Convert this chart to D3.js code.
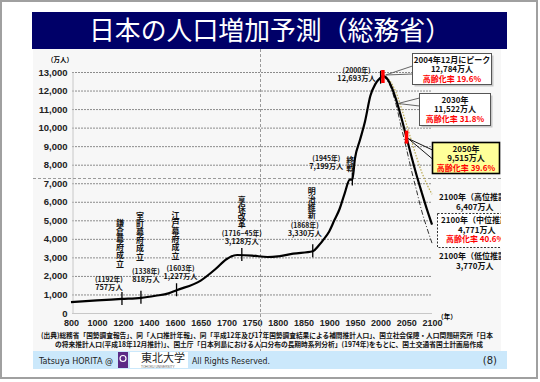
<!DOCTYPE html>
<html><head><meta charset="utf-8">
<script src="https://cdn.jsdelivr.net/npm/d3@7"></script>
<style>body{margin:0;background:#fff}svg{display:block}</style>
</head><body><svg id="c" width="540" height="382"></svg>
<script>
// ---------- DATA ----------
const titleText = "日本の人口増加予測（総務省）";
const xTickYears = [800,1000,1200,1400,1600,1650,1700,1750,1800,1850,1900,1950,2000,2050,2100];
const yTickValues = [0,1000,2000,3000,4000,5000,6000,7000,8000,9000,10000,11000,12000,13000];
// actual + medium projection (万人)
const years      = [800,1000,1192,1338,1450,1550,1603,1650,1680,1700,1721,1750,1780,1800,1830,1868,1880,1890,1900,1910,1920,1930,1940,1945,1950,1960,1970,1980,1990,2000,2004,2010,2020,2030,2040,2050,2060,2070,2080,2090,2100];
const population = [590, 680, 757, 818, 930,1060,1227,1750,2400,2900,3128,3100,3020,3050,3200,3330,3650,4000,4400,5000,5596,6445,7193,7199,8320,9342,10372,11706,12361,12693,12784,12718,12274,11522,10570,9515,8440,7430,6500,5600,4771];
const highYears = [2005,2020,2030,2040,2050,2060,2070,2080,2090,2100];
const highPop   = [12780,12450,11900,11100,10200,9300,8400,7600,6950,6407];
const lowYears  = [2005,2020,2030,2040,2050,2060,2070,2080,2090,2100];
const lowPop    = [12780,12150,11250,10050,8900,7700,6600,5500,4600,3770];
const eventYears  = [1192,1338,1603,1730,1868,1945,2000];
const eventPops   = [757,818,1227,3128,3330,7199,12693];
const eventNames  = ["鎌倉幕府成立","室町幕府成立","江戸幕府成立","享保改革","明治維新","終戦",""];
const eventYearLabels = ["(1192年)","(1338年)","(1603年)","(1716~45年)","(1868年)","(1945年)","(2000年)"];
const eventPopLabels  = ["757万人","818万人","1,227万人","3,128万人","3,330万人","7,199万人","12,693万人"];
const calloutLines = [
  ["2004年12月にピーク","12,784万人","高齢化率 19.6%"],
  ["2030年","11,522万人","高齢化率 31.8%"],
  ["2050年","9,515万人","高齢化率 39.6%"]
];
const proj2100 = [
  ["2100年（高位推計）","6,407万人"],
  ["2100年（中位推計）","4,771万人","高齢化率 40.6%"],
  ["2100年（低位推計）","3,770万人"]
];
const sourceLines = [
  "(出典)総務省「国勢調査報告」、同「人口推計年報」、同「平成12年及び17年国勢調査結果による補間推計人口」、国立社会保障・人口問題研究所「日本",
  "の将来推計人口(平成18年12月推計)」、国土庁「日本列島における人口分布の長期時系列分析」(1974年)をもとに、国土交通省国土計画局作成"
];
const footerLeft = "Tatsuya HORITA @";
const footerUniv = "東北大学";
const footerUnivEn = "TOHOKU UNIVERSITY";
const footerRights = "All Rights Reserved.";
const pageNo = "(8)";

// ---------- DRAW ----------
const JP = "'Noto Sans CJK JP','Noto Sans',sans-serif";
const svg = d3.select("#c");
svg.append("rect").attr("x",0).attr("y",0).attr("width",540).attr("height",382).attr("fill","#fff");
svg.append("rect").attr("x",1).attr("y",1).attr("width",536).attr("height",377).attr("fill","none").attr("stroke","#a0a0a0").attr("stroke-width",2);

// title bar
svg.append("rect").attr("x",32).attr("y",12).attr("width",475).attr("height",37).attr("fill","#000068");
svg.append("text").attr("x",270).attr("y",40).attr("text-anchor","middle").attr("fill","#fff")
  .attr("font-family",JP).attr("font-size",26).attr("textLength",362).attr("lengthAdjust","spacingAndGlyphs").text(titleText);

// chart panel
svg.append("rect").attr("x",33).attr("y",49).attr("width",468).attr("height",302).attr("fill","#f7f7f7");
svg.append("clipPath").attr("id","pc").append("rect").attr("x",33).attr("y",49).attr("width",468).attr("height",302);
const g = svg.append("g").attr("clip-path","url(#pc)");

const x = d3.scaleLinear().domain([800,1600,2100]).range([71,175,432]);
const y = d3.scaleLinear().domain([0,13000]).range([313,72]);

// gridlines
g.append("g").selectAll("line").data(yTickValues.filter(v=>v>0)).join("line")
  .attr("x1",72).attr("x2",432).attr("y1",d=>y(d)+0.5).attr("y2",d=>y(d)+0.5)
  .attr("stroke","#8c8c8c").attr("stroke-width",1).attr("stroke-dasharray","2,1");
// axes
const yAxis = d3.axisLeft(y).tickValues(yTickValues).tickSize(0).tickPadding(5).tickFormat(d3.format(","));
const ya = g.append("g").attr("transform","translate(72.5,0)").call(yAxis);
ya.select(".domain").attr("stroke","#c8c8c8");
ya.selectAll("text").attr("font-family","'Liberation Sans',Arial,sans-serif").attr("font-size",9.5).attr("font-weight","bold").attr("fill","#222");
const xAxis = d3.axisBottom(x).tickValues(xTickYears).tickSize(0).tickPadding(6).tickFormat(d=>String(d));
const xa = g.append("g").attr("transform","translate(0,313.5)").call(xAxis);
xa.select(".domain").remove();
g.append("line").attr("x1",72).attr("x2",432).attr("y1",313.5).attr("y2",313.5).attr("stroke","#c8c8c8");
xa.selectAll("text").attr("font-family","'Liberation Sans',Arial,sans-serif").attr("font-size",9).attr("font-weight","bold").attr("fill","#222");
g.append("text").attr("x",60).attr("y",62).attr("text-anchor","middle").attr("font-family",JP).attr("font-size",6.5).attr("font-weight","bold").text("（万人）");
g.append("text").attr("x",447).attr("y",319).attr("text-anchor","middle").attr("font-family",JP).attr("font-size",6.5).attr("font-weight","bold").text("（年）");

// slide guide lines
g.append("line").attr("x1",260.5).attr("x2",260.5).attr("y1",49).attr("y2",351).attr("stroke","#9a9a9a").attr("stroke-dasharray","3,2");
g.append("line").attr("x1",33).attr("x2",501).attr("y1",178.5).attr("y2",178.5).attr("stroke","#9a9a9a").attr("stroke-dasharray","3,2");

// projection lines
const line = d3.line().x(d=>x(d[0])).y(d=>y(d[1])).curve(d3.curveMonotoneX);
g.append("path").datum(highYears.map((v,i)=>[v,highPop[i]])).attr("d",line).attr("fill","none")
  .attr("stroke","#b8a850").attr("stroke-width",1.2).attr("stroke-dasharray","1.5,1.5");
g.append("path").datum(lowYears.map((v,i)=>[v,lowPop[i]])).attr("d",line).attr("fill","none")
  .attr("stroke","#333").attr("stroke-width",1).attr("stroke-dasharray","5,2,1,2");
// main line
g.append("path").datum(years.map((v,i)=>[v,population[i]])).attr("d",line).attr("fill","none")
  .attr("stroke","#000").attr("stroke-width",2.2);

// event ticks
g.append("g").selectAll("line").data(eventYears).join("line")
  .attr("x1",d=>x(d)).attr("x2",d=>x(d))
  .attr("y1",(d,i)=>y(eventPops[i])-7).attr("y2",(d,i)=>y(eventPops[i])+6)
  .attr("stroke","#000").attr("stroke-width",1.3);

// event labels (layout)
const evLayout = [
  {nx:-2, ny:219, lx:-13, ly:279},
  {nx:-1, ny:212, lx:5,  ly:271},
  {nx:-1, ny:211, lx:4,  ly:268},
  {nx:0,  ny:196, lx:0,  ly:233},
  {nx:-1, ny:187, lx:-8, ly:225},
  {nx:-2, ny:156, lx:-26,ly:158},
  {nx:0,  ny:0,   lx:-24,ly:70}
];
eventYears.forEach((yr,i)=>{
  const L = evLayout[i], cx = x(yr);
  if(eventNames[i]) {
    g.append("text").attr("x",cx+L.nx).attr("y",L.ny)
      .style("writing-mode","vertical-rl").attr("letter-spacing",0.1)
      .attr("font-family",JP).attr("font-size",8).attr("font-weight","bold").attr("fill","#111").text(eventNames[i]);
  }
  const t = g.append("text").attr("text-anchor","middle").attr("font-family",JP).attr("font-weight","bold").attr("fill","#111");
  t.append("tspan").attr("x",cx+L.lx).attr("y",L.ly+2.5).attr("font-size",6.8).text(eventYearLabels[i]);
  t.append("tspan").attr("x",cx+L.lx).attr("y",L.ly+11).attr("font-size",7.3).text(eventPopLabels[i]);
});

// red markers
g.append("rect").attr("x",x(2004)-1.5).attr("y",y(12784)-6).attr("width",3.5).attr("height",13).attr("fill","#ff0000");
g.append("rect").attr("x",x(2050)-1.5).attr("y",y(9515)-6).attr("width",3.5).attr("height",13).attr("fill","#ff0000");

// callouts
const boxes = [
  {x:412.5,y:53.5,w:79,h:31,fill:"#fff",stroke:"#555",sw:1,cx:452,tip:[x(2004)+3,y(12784)-1],a:[412.5,66],b:[412.5,74]},
  {x:419.5,y:93.5,w:71,h:32,fill:"#fff",stroke:"#555",sw:1,cx:455,tip:[x(2032)+1,y(11300)],a:[419.5,98],b:[419.5,106]},
  {x:432.5,y:142.5,w:67,h:31,fill:"#ffff99",stroke:"#000",sw:1.6,cx:466,tip:[x(2050)+2,y(9515)+2],a:[432.5,150],b:[432.5,159]}
];
boxes.forEach((b,i)=>{
  g.append("polyline").attr("points",[b.a,b.tip,b.b].map(p=>p.join(",")).join(" ")).attr("fill","none").attr("stroke",b.stroke).attr("stroke-width",0.9);
  if(i<2) g.append("rect").attr("x",b.x+2).attr("y",b.y+2).attr("width",b.w).attr("height",b.h).attr("fill","#c8c8c8");
  g.append("rect").attr("x",b.x).attr("y",b.y).attr("width",b.w).attr("height",b.h).attr("fill",b.fill).attr("stroke",b.stroke).attr("stroke-width",b.sw);
  const t = g.append("text").attr("text-anchor","middle").attr("font-family",JP).attr("font-size",8).attr("font-weight","bold");
  calloutLines[i].forEach((s,k)=>{
    t.append("tspan").attr("x",b.cx).attr("y",b.y+9.5+k*9.3).attr("fill",k===2?"#ff0000":"#111").text(s);
  });
});

// 2100 projections
g.append("rect").attr("x",437.5).attr("y",213.5).attr("width",72).attr("height",34).attr("fill","#fff").attr("stroke","#333").attr("stroke-dasharray","2,1.5");
const projPos = [{x:439,y:200},{x:441,y:223},{x:439,y:259}];
proj2100.forEach((ls,i)=>{
  const t = g.append("text").attr("font-family",JP).attr("font-size",8).attr("font-weight","bold");
  ls.forEach((s,k)=>{
    t.append("tspan").attr("x",projPos[i].x + (k===0?0:(k===1?17:5))).attr("y",projPos[i].y+k*9.5)
      .attr("fill",k===2?"#ff0000":"#111").text(s);
  });
});

// source
sourceLines.forEach((t,i)=>{
  svg.append("text").attr("x",i===0?41:55).attr("y",338+i*8.5).attr("font-family",JP).attr("font-size",7).attr("font-weight","bold").attr("fill","#111")
    .attr("textLength",i===0?452:428).attr("lengthAdjust","spacingAndGlyphs").text(t);
});

// footer
svg.append("rect").attr("x",33).attr("y",351).attr("width",474).attr("height",18).attr("fill","#cbe8fb");
svg.append("text").attr("x",39).attr("y",364).attr("font-family","'DejaVu Sans',sans-serif").attr("font-size",9.5).attr("fill","#222")
  .attr("textLength",74).attr("lengthAdjust","spacingAndGlyphs").text(footerLeft);
svg.append("rect").attr("x",118).attr("y",352).attr("width",10).attr("height",16).attr("fill","#5b2a86");
svg.append("circle").attr("cx",123).attr("cy",358.5).attr("r",3).attr("fill","none").attr("stroke","#fff").attr("stroke-width",1.2);
svg.append("rect").attr("x",130).attr("y",352).attr("width",58).attr("height",16).attr("fill","#fff");
svg.append("text").attr("x",141).attr("y",362).attr("font-family",JP).attr("font-size",11).attr("fill","#222").text(footerUniv);
svg.append("text").attr("x",141).attr("y",367.5).attr("font-family","'Liberation Sans',sans-serif").attr("font-size",3.2).attr("fill","#555").text(footerUnivEn);
svg.append("text").attr("x",192).attr("y",364).attr("font-family","'DejaVu Sans',sans-serif").attr("font-size",9.5).attr("fill","#222")
  .attr("textLength",78).attr("lengthAdjust","spacingAndGlyphs").text(footerRights);
svg.append("text").attr("x",497).attr("y",364).attr("text-anchor","end").attr("font-family","'DejaVu Sans',sans-serif").attr("font-size",10).attr("fill","#222").text(pageNo);
</script></body></html>
